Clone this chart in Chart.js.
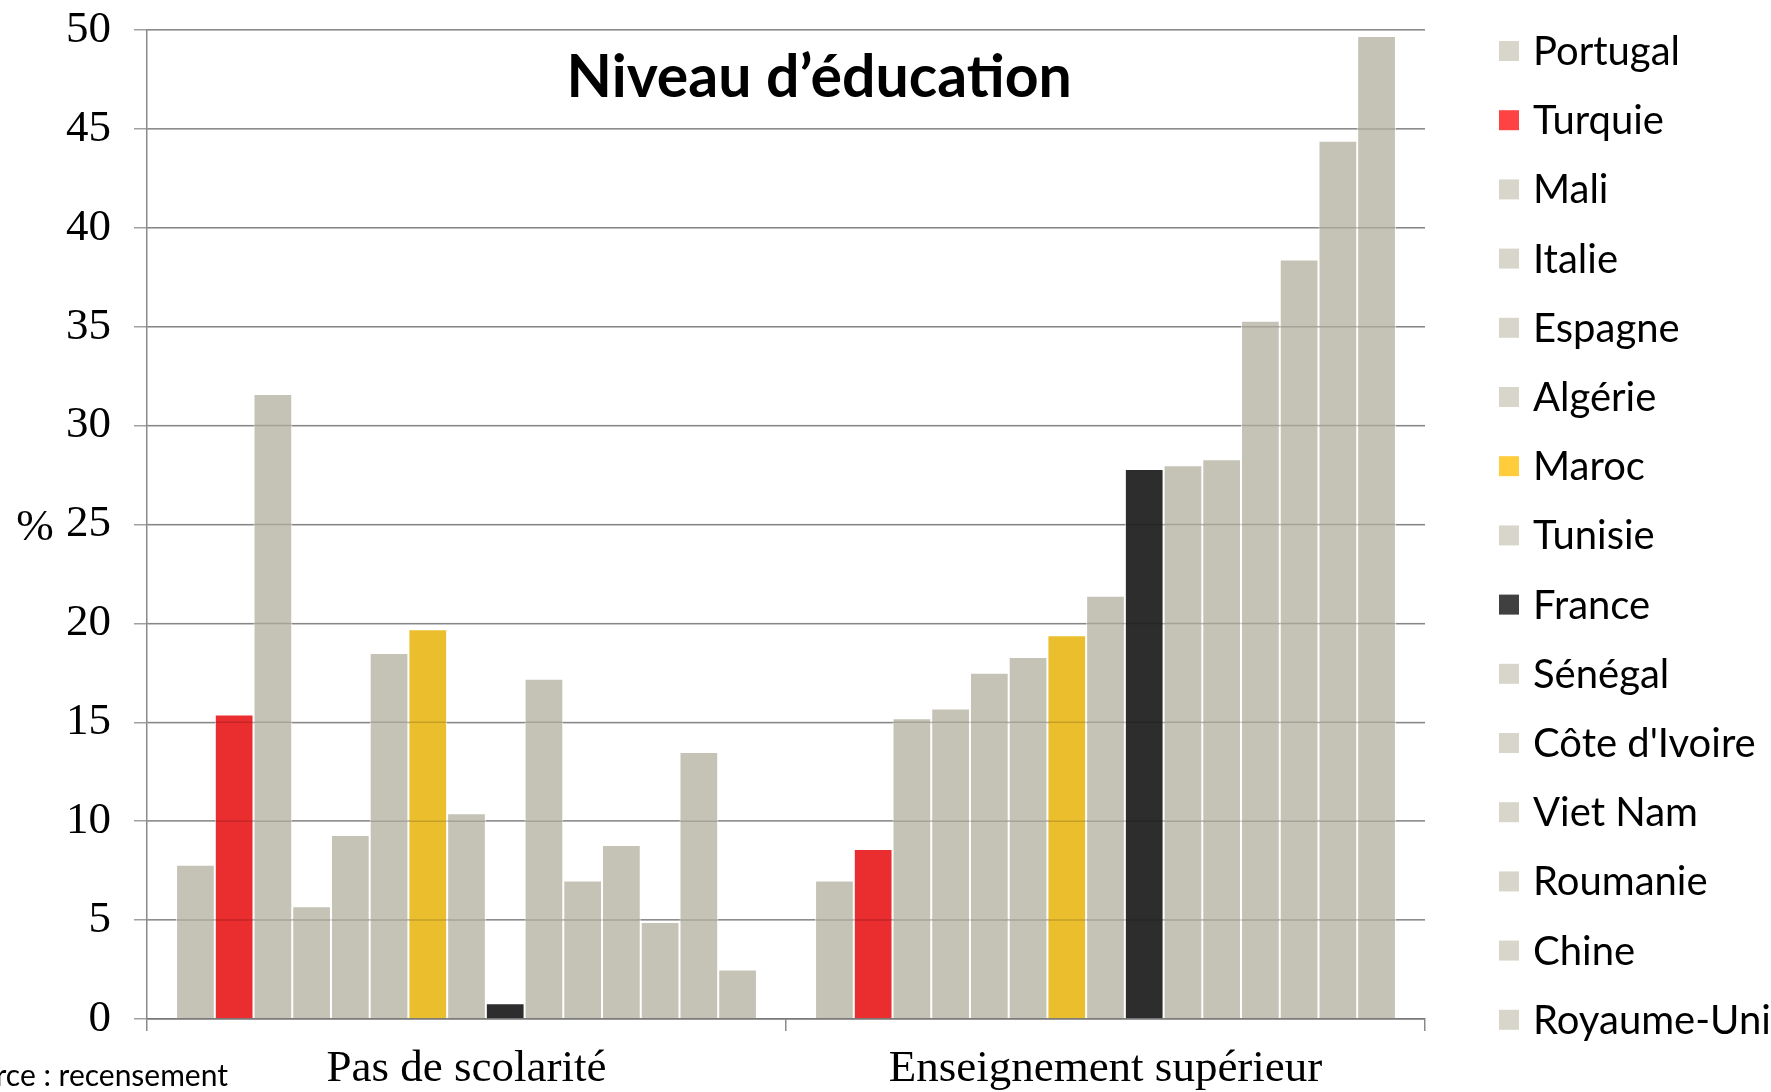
<!DOCTYPE html>
<html>
<head>
<meta charset="utf-8">
<script src="https://cdn.jsdelivr.net/npm/chart.js@4.4.1/dist/chart.umd.min.js"></script>
<style>
  html, body { margin: 0; padding: 0; background: #ffffff; }
  #wrap { width: 1771px; height: 1092px; position: relative; }
</style>
</head>
<body>
<div id="wrap"><canvas id="c" width="1771" height="1092"></canvas></div>
<script>
// ---- Data ----
const categories = ['Pas de scolarité', 'Enseignement supérieur'];
const countries = ['Portugal', 'Turquie', 'Mali', 'Italie', 'Espagne', 'Algérie', 'Maroc', 'Tunisie',
  'France', 'Sénégal', "Côte d'Ivoire", 'Viet Nam', 'Roumanie', 'Chine', 'Royaume-Uni'];
const noSchooling = [7.8, 15.4, 31.6, 5.7, 9.3, 18.5, 19.7, 10.4, 0.8, 17.2, 7.0, 8.8, 4.9, 13.5, 2.5];
const higherEd    = [7.0, 8.6, 15.2, 15.7, 17.5, 18.3, 19.4, 21.4, 27.8, 28.0, 28.3, 35.3, 38.4, 44.4, 49.7];
const yTicks = [0, 5, 10, 15, 20, 25, 30, 35, 40, 45, 50];
const chartTitle = 'Niveau d\u2019éducation';
const yUnit = '%';
const sourceNote = 'Source : recensement';

// ---- Styles ----
const GRAY = '#c5c3b6', RED = '#ea2d2f', YELLOW = '#ebbe2e', DARK = '#2d2d2d';
const barColors = [GRAY, RED, GRAY, GRAY, GRAY, GRAY, YELLOW, GRAY, DARK, GRAY, GRAY, GRAY, GRAY, GRAY, GRAY];
const LG = '#d8d6cb';
const legendColors = [LG, '#ff4343', LG, LG, LG, LG, '#ffcd3c', LG, '#404040', LG, LG, LG, LG, LG, LG];

const datasets = countries.map((name, i) => ({
  label: name,
  data: [noSchooling[i], higherEd[i]],
  backgroundColor: barColors[i],
  borderColor: '#ffffff',
  borderWidth: 1,
  borderSkipped: 'bottom'
}));

const overlayGrid = {
  id: 'overlayGrid',
  afterDatasetsDraw(chart) {
    const ctx = chart.ctx, y = chart.scales.y, a = chart.chartArea;
    ctx.save();
    ctx.strokeStyle = 'rgba(0,0,0,0.16)';
    ctx.lineWidth = 1.5;
    yTicks.forEach(v => {
      const py = y.getPixelForValue(v);
      ctx.beginPath(); ctx.moveTo(a.left, py); ctx.lineTo(a.right, py); ctx.stroke();
    });
    ctx.restore();
  }
};

const annotations = {
  id: 'annotations',
  afterDraw(chart) {
    const ctx = chart.ctx, a = chart.chartArea;
    ctx.save();
    // title inside the plot
    ctx.fillStyle = '#000';
    ctx.font = 'bold 59px Lato, "Open Sans", sans-serif';
    ctx.textAlign = 'center';
    ctx.textBaseline = 'middle';
    ctx.fillText(chartTitle, a.left + (a.right - a.left) * 0.526, 78);
    // % unit
    ctx.font = '45px "Liberation Serif", serif';
    ctx.textAlign = 'center';
    ctx.fillText(yUnit, 35, 528);
    // source note (clipped at left edge, as in the original)
    ctx.font = '30px Lato, sans-serif';
    ctx.textAlign = 'right';
    ctx.fillText(sourceNote, 228, 1076);
    // legend
    const top = 51, step = 69.2, boxX = 1499, box = 20, textX = 1533;
    ctx.font = '40px Lato, "Open Sans", sans-serif';
    ctx.textAlign = 'left';
    chart.data.datasets.forEach((ds, i) => {
      const cy = top + i * step;
      ctx.fillStyle = legendColors[i];
      ctx.fillRect(boxX, cy - box / 2, box, box);
      ctx.fillStyle = '#000';
      ctx.fillText(ds.label, textX, cy + 1);
    });
    ctx.restore();
  }
};

new Chart(document.getElementById('c'), {
  type: 'bar',
  data: { labels: categories, datasets },
  options: {
    responsive: false,
    animation: false,
    devicePixelRatio: 1,
    layout: { padding: { left: 0, right: 346, top: 30, bottom: 0 } },
    datasets: { bar: { categoryPercentage: 0.909, barPercentage: 1.0 } },
    plugins: { legend: { display: false }, tooltip: { enabled: false }, title: { display: false } },
    scales: {
      x: {
        grid: { offset: true, drawOnChartArea: false, drawTicks: true, tickLength: 12, color: '#8a8a8a', lineWidth: 1.5 },
        border: { display: true, color: '#8a8a8a', width: 1.5 },
        ticks: { color: '#000', padding: 11, font: { family: '"Liberation Serif", serif', size: 45 } },
        afterFit(scale) { scale.height = 73; scale.paddingLeft = 0; scale.paddingRight = 0; }
      },
      y: {
        min: 0, max: 50,
        afterBuildTicks(scale) { scale.ticks = yTicks.map(v => ({ value: v })); },
        grid: { color: '#a0a0a0', lineWidth: 1.5, drawTicks: true, tickLength: 13 },
        border: { display: true, color: '#8a8a8a', width: 1.5 },
        ticks: { color: '#000', padding: 23, font: { family: '"Liberation Serif", serif', size: 45 } },
        afterFit(scale) { scale.width = 147; scale.paddingTop = 0; scale.paddingBottom = 0; }
      }
    }
  },
  plugins: [overlayGrid, annotations]
});
</script>
</body>
</html>
